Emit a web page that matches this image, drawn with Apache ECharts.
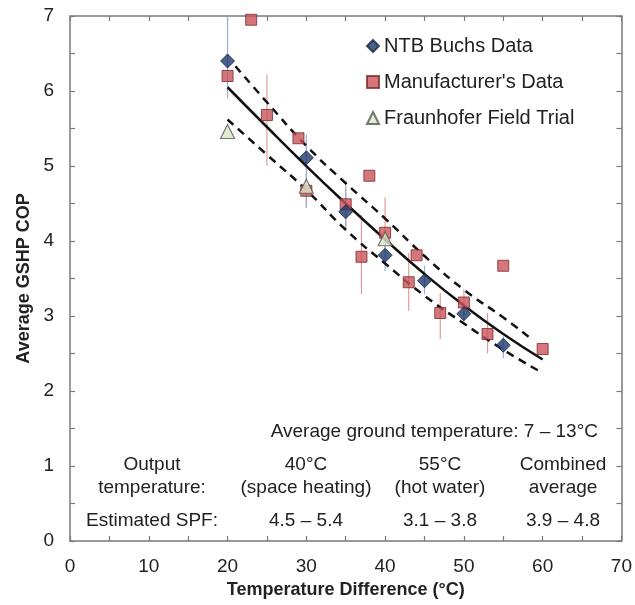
<!DOCTYPE html>
<html>
<head>
<meta charset="utf-8">
<script src="https://cdn.jsdelivr.net/npm/echarts@6/dist/echarts.min.js"></script>
<style>
  html, body { margin: 0; padding: 0; background: #fff; }
  #chart { width: 635px; height: 605px; }
</style>
</head>
<body>
<div id="chart"></div>
<script>
// NTB Buchs measurements (diamonds) with their error range
const ntbX = [20, 30, 35, 40, 45, 50, 55];
const ntbY = [6.4, 5.11, 4.39, 3.81, 3.47, 3.03, 2.61];
const ntbLow = [5.9, 4.45, 4.15, 3.6, 3.29, 2.88, 2.44];
const ntbHigh = [7.0, 5.42, 4.7, 4.05, 3.67, 3.2, 2.73];

// manufacturer data (squares), null = no error bar drawn
const manX = [20, 23, 25, 29, 30, 35, 37, 38, 40, 43, 44, 47, 50, 53, 55, 60];
const manY = [6.2, 6.95, 5.68, 5.37, 4.67, 4.49, 3.79, 4.87, 4.11, 3.45, 3.81, 3.04, 3.18, 2.76, 3.67, 2.56];
const manLow = [null, null, 5.0, null, 4.44, 4.18, 3.29, null, 3.9, 3.07, null, 2.69, 3.0, 2.5, null, null];
const manHigh = [null, null, 6.22, null, 4.9, 4.8, 4.35, null, 4.58, 3.84, null, 3.31, 3.36, 3.04, null, null];

// Fraunhofer field trial (triangles)
const fhX = [20, 30, 40];
const fhY = [5.46, 4.73, 4.03];

// fitted curve and its band
const fitX = [20, 25, 30, 35, 40, 45, 50, 55, 60];
const fitY = [6.05, 5.52, 5.0, 4.5, 4.02, 3.56, 3.14, 2.76, 2.42];
const upX = [21, 25, 30, 35, 40, 45, 50, 55, 58.5];
const upY = [6.33, 5.85, 5.27, 4.77, 4.3, 3.8, 3.35, 2.98, 2.7];
const loX = [20, 25, 30, 35, 40, 45, 50, 55, 60];
const loY = [5.62, 5.15, 4.68, 4.15, 3.7, 3.27, 2.9, 2.55, 2.24];

const FONT = '"Liberation Sans", Arial, sans-serif';
const zip = (xs, ys) => xs.map((x, i) => [x, ys[i]]);
const bars = (xs, lo, hi) => xs.map((x, i) => [x, lo[i], hi[i]]).filter(d => d[1] != null);

// draws a thin vertical error bar
function errBar(color) {
  return function (params, api) {
    const p1 = api.coord([api.value(0), api.value(1)]);
    const p2 = api.coord([api.value(0), api.value(2)]);
    return {
      type: 'line',
      shape: { x1: p1[0], y1: p1[1], x2: p2[0], y2: p2[1] },
      style: { stroke: color, lineWidth: 1.2 }
    };
  };
}

// annotation text below the curves
function note(text, x, y) {
  return {
    type: 'text', x: x, y: y,
    style: { text: text, font: '19px ' + FONT, fill: '#222', textAlign: 'center', textVerticalAlign: 'middle' }
  };
}

const chart = echarts.init(document.getElementById('chart'));

const axisLine = { show: true, onZero: false, lineStyle: { color: '#7a7a7a', width: 1.5 } };
const tickIn = { show: true, inside: true, length: 5, lineStyle: { color: '#7a7a7a', width: 1.2 } };

chart.setOption({
  animation: false,
  grid: { left: 70, right: 10, top: 16, bottom: 64 },
  legend: {
    orient: 'vertical',
    left: 361,
    top: 31,
    itemWidth: 12,
    itemHeight: 12,
    itemGap: 16,
    data: ['NTB Buchs Data', "Manufacturer's Data", 'Fraunhofer Field Trial'],
    textStyle: { fontFamily: FONT, fontSize: 20, color: '#222' }
  },
  xAxis: [{
    type: 'value', min: 0, max: 70, interval: 5,
    name: 'Temperature Difference (°C)',
    nameLocation: 'middle', nameGap: 40,
    nameTextStyle: { fontFamily: FONT, fontSize: 18, fontWeight: 'bold', color: '#222' },
    axisLine: axisLine, axisTick: tickIn, splitLine: { show: false },
    axisLabel: {
      margin: 16, fontFamily: FONT, fontSize: 19, color: '#222',
      formatter: v => (v % 10 === 0 ? String(v) : '')
    }
  }, {
    type: 'value', min: 0, max: 70, interval: 5, position: 'top',
    axisLine: axisLine, axisTick: tickIn, axisLabel: { show: false }, splitLine: { show: false }
  }],
  yAxis: [{
    type: 'value', min: 0, max: 7, interval: 0.5,
    name: 'Average GSHP COP',
    nameLocation: 'middle', nameGap: 34,
    nameTextStyle: { fontFamily: FONT, fontSize: 18, fontWeight: 'bold', color: '#222' },
    axisLine: axisLine, axisTick: tickIn, splitLine: { show: false },
    axisLabel: {
      margin: 16, fontFamily: FONT, fontSize: 19, color: '#222',
      formatter: v => (v % 1 === 0 ? String(v) : '')
    }
  }, {
    type: 'value', min: 0, max: 7, interval: 0.5, position: 'right',
    axisLine: axisLine, axisTick: tickIn, axisLabel: { show: false }, splitLine: { show: false }
  }],
  series: [
    {
      type: 'custom', name: 'errMan', renderItem: errBar('#e49a9a'),
      data: bars(manX, manLow, manHigh), z: 1, silent: true
    },
    {
      type: 'custom', name: 'errNtb', renderItem: errBar('#98acd4'),
      data: bars(ntbX, ntbLow, ntbHigh), z: 1, silent: true
    },
    {
      type: 'line', name: 'fit', data: zip(fitX, fitY), smooth: true, symbol: 'none', z: 2,
      lineStyle: { color: '#111', width: 2.5 }
    },
    {
      type: 'line', name: 'upper', data: zip(upX, upY), smooth: true, symbol: 'none', z: 2,
      lineStyle: { color: '#111', width: 2.5, type: [8, 6] }
    },
    {
      type: 'line', name: 'lower', data: zip(loX, loY), smooth: true, symbol: 'none', z: 2,
      lineStyle: { color: '#111', width: 2.5, type: [8, 6] }
    },
    {
      type: 'scatter', name: "Manufacturer's Data", data: zip(manX, manY),
      symbol: 'rect', symbolSize: 11, z: 3,
      itemStyle: { color: '#c9545a', borderColor: '#7a2a2a', borderWidth: 1 }
    },
    {
      type: 'scatter', name: 'NTB Buchs Data', data: zip(ntbX, ntbY),
      symbol: 'diamond', symbolSize: 14, z: 4,
      itemStyle: { color: '#1f3a6b', borderColor: '#142645', borderWidth: 1 }
    },
    {
      type: 'scatter', name: 'Fraunhofer Field Trial', data: zip(fhX, fhY),
      symbol: 'triangle', symbolSize: 14, z: 4,
      itemStyle: { color: '#d9e7c6', borderColor: '#555', borderWidth: 1.2 }
    }
  ],
  graphic: [
    { type: 'text', right: 37, top: 422, style: { text: 'Average ground temperature: 7 – 13°C', font: '19px ' + FONT, fill: '#222' } },
    note('Output', 152, 465),
    note('temperature:', 152, 488),
    note('40°C', 306, 465),
    note('(space heating)', 306, 488),
    note('55°C', 440, 465),
    note('(hot water)', 440, 488),
    note('Combined', 563, 465),
    note('average', 563, 488),
    note('Estimated SPF:', 152, 521),
    note('4.5 – 5.4', 306, 521),
    note('3.1 – 3.8', 440, 521),
    note('3.9 – 4.8', 563, 521)
  ]
});
</script>
</body>
</html>
